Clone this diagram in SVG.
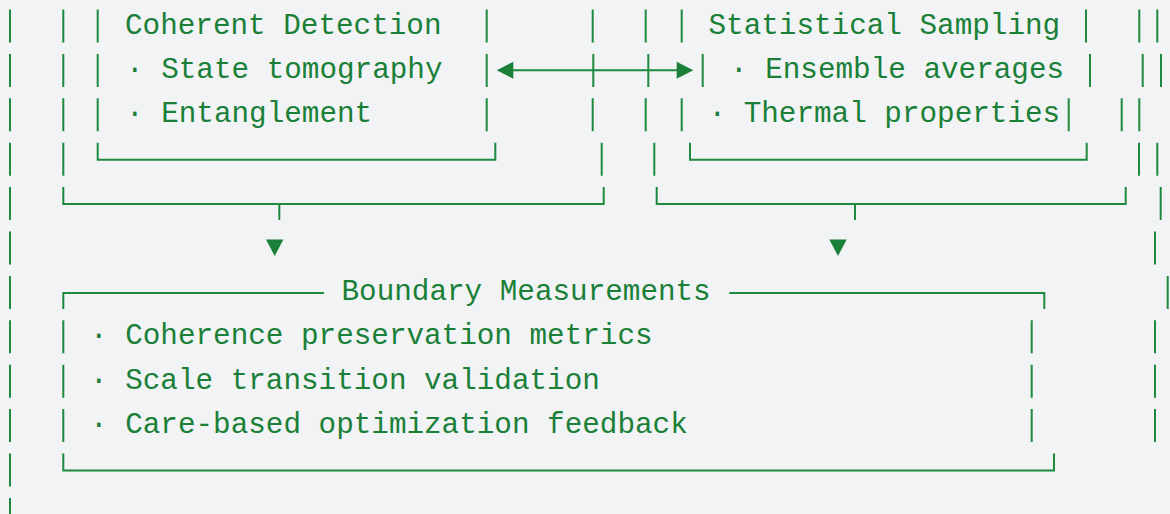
<svg xmlns="http://www.w3.org/2000/svg" width="1170" height="514" viewBox="0 0 1170 514">
  <style>
    .t { font-family: "Liberation Mono", "DejaVu Sans Mono", monospace; font-size: 29.3px; fill: #1a7f37; white-space: pre; }
    .ln { fill: none; stroke: #1f8a3f; stroke-width: 2; }
    .dash { stroke-dasharray: 33 11.4; }
    .head { fill: #1a7f37; }
  </style>
  <rect width="1170" height="514" fill="#f1f3f5"/>

  <g id="outer-frame">
    <line class="ln dash" x1="10" y1="9.5" x2="10" y2="514"/>
    <path class="ln" d="M1157.3 9.5V42.5 M1161 53.9V86.9 M1139.3 98.3V131.3 M1157.3 142.7V175.7 M1160.7 187.1V220.1 M1155 231.5V264.5 M1167.7 275.9V308.9 M1155 320.3V353.3 M1155 364.7V397.7 M1155 409.1V442.1"/>
  </g>

  <g id="left-group">
    <line class="ln dash" x1="63.3" y1="9.5" x2="63.3" y2="175.7"/>
    <path class="ln" d="M592.7 9.5V42.5 M592.7 98.3V131.3 M601.7 142.7V175.7 M63.3 187.1V204.1H603.7V187.1"/>
  </g>

  <g id="node-coherent">
    <line class="ln dash" x1="97.7" y1="9.5" x2="97.7" y2="131.3"/>
    <line class="ln dash" x1="486.7" y1="9.5" x2="486.7" y2="131.3"/>
    <path class="ln" d="M97.7 142.7V159.7H495.3V142.7"/>
    <text class="t" x="125" y="33.5">Coherent Detection</text>
    <text class="t" x="126" y="77.9">· State tomography</text>
    <text class="t" x="126" y="122.3">· Entanglement</text>
  </g>

  <g id="right-group">
    <path class="ln" d="M645.7 9.5V42.5 M645.7 98.3V131.3 M654.3 142.7V175.7 M656.7 187.1V204.1H1125.7V187.1 M1139.3 9.5V42.5 M1142.7 53.9V86.9 M1121.7 98.3V131.3 M1139 142.7V175.7"/>
  </g>

  <g id="node-statistical">
    <path class="ln" d="M681.7 9.5V42.5 M702.7 53.9V86.9 M681.7 98.3V131.3 M690 142.7V159.7H1086.7V142.7 M1086 9.5V42.5 M1090 53.9V86.9 M1068.7 98.3V131.3"/>
    <text class="t" x="708.5" y="33.5">Statistical Sampling</text>
    <text class="t" x="730" y="77.9">· Ensemble averages</text>
    <text class="t" x="708.5" y="122.3">· Thermal properties</text>
  </g>

  <g id="node-boundary">
    <path class="ln" d="M63.3 308.9V292.9H324 M729.3 292.9H1044.3V308.9 M1031.7 320.3V353.3 M1031.7 364.7V397.7 M1031.7 409.1V442.1 M63.3 453.5V470.5H1054V453.5"/>
    <line class="ln dash" x1="63.3" y1="320.3" x2="63.3" y2="442.1"/>
    <text class="t" x="341.5" y="299.9">Boundary Measurements</text>
    <text class="t" x="90" y="344.3">· Coherence preservation metrics</text>
    <text class="t" x="90" y="388.7">· Scale transition validation</text>
    <text class="t" x="90" y="433.1">· Care-based optimization feedback</text>
  </g>

  <g id="connectors">
    <path class="ln" d="M512 70.3H678 M593.3 53.9V86.9 M648.3 53.9V86.9"/>
    <polygon class="head" points="496.7,70.3 513.3,61.7 513.3,78.7"/>
    <polygon class="head" points="693.3,70.3 676.7,61.7 676.7,78.7"/>
    <path class="ln" d="M279.3 204.1V220.1 M855 204.1V220.1"/>
    <polygon class="head" points="266,239.5 283.4,239.5 274.7,256"/>
    <polygon class="head" points="829.3,239.5 846.7,239.5 838,256"/>
  </g>
</svg>
